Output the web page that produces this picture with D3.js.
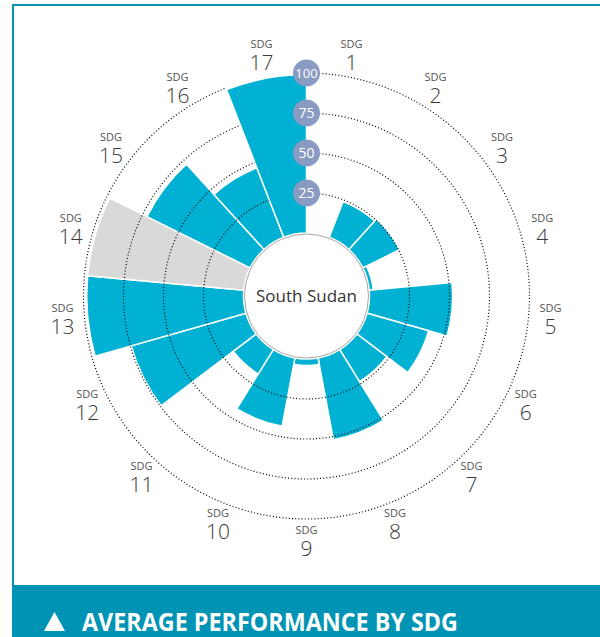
<!DOCTYPE html>
<html>
<head>
<meta charset="utf-8">
<script src="https://cdn.jsdelivr.net/npm/d3@7"></script>
<style>
  body { margin: 0; background: #fff; }
  text { font-family: "Open Sans", "DejaVu Sans", sans-serif; }
</style>
</head>
<body>
<div id="sdg-chart"></div>
<script>
// chart values
const sdgLabels = ['1','2','3','4','5','6','7','8','9','10','11','12','13','14','15','16','17'];
const sdgScores = [0, 24, 25.5, 2.5, 52, 40, 23.5, 52, 4, 43.5, 18, 74.5, 98, 98, 72, 46.5, 99];
const greyedSdgs = ['14'];   // insufficient data -> grey bar
const ringTicks = [25, 50, 75, 100];
const countryName = 'South Sudan';
const bannerTitle = 'AVERAGE PERFORMANCE BY SDG';

drawChart();

function drawChart(){
    let width = 600, height = 637
    let cx = 306.5, cy = 296
    let teal = '#0093b4', barBlue = '#00b1d4', grey = '#d9d9d9'

    let svg = d3.select('#sdg-chart').append('svg')
                .attr('width', width)
                .attr('height', height)

    // frame: top and left teal rules, banner at bottom
    svg.append('rect').attr('x', 12).attr('y', 4).attr('width', width - 12).attr('height', 2).attr('fill', teal)
    svg.append('rect').attr('x', 12).attr('y', 4).attr('width', 2).attr('height', 585).attr('fill', teal)
    svg.append('rect').attr('x', 12).attr('y', 585).attr('width', width - 12).attr('height', height - 585).attr('fill', teal)

    // scales
    let angle = d3.scaleBand().domain(sdgLabels).range([0, 2 * Math.PI]).padding(0)
    let bw = angle.bandwidth()
    let radius = d3.scaleLinear().domain([0, 100]).range([63, 223])

    let g = svg.append('g').attr('transform', 'translate(' + cx + ',' + cy + ')')

    // bars
    let arc = d3.arc()
                .innerRadius(radius(0))
                .outerRadius(function(d){ return radius(d.value) })
                .startAngle(function(d){ return angle(d.sdg) })
                .endAngle(function(d){ return angle(d.sdg) + bw })

    let rows = sdgLabels.map(function(s, i){ return {sdg: s, value: sdgScores[i]} })

    g.append('g').selectAll('path')
        .data(rows.filter(function(d){ return d.value > 0 }))
      .enter().append('path')
        .attr('d', arc)
        .attr('fill', function(d){ return greyedSdgs.includes(d.sdg) ? grey : barBlue })
        .attr('stroke', '#fff')
        .attr('stroke-width', 1.5)

    // dotted rings (left open over the last sector where the tick badges sit)
    let ringEnd = angle(sdgLabels[sdgLabels.length - 1])
    g.append('g').selectAll('path')
        .data(ringTicks)
      .enter().append('path')
        .attr('d', function(t){
            let p = d3.path()
            p.arc(0, 0, radius(t), -Math.PI / 2, ringEnd - Math.PI / 2)
            return p.toString()
        })
        .attr('fill', 'none')
        .attr('stroke', '#000')
        .attr('stroke-width', 1.2)
        .attr('stroke-dasharray', '1,2.2')

    // centre disc
    g.append('circle')
        .attr('r', radius(0) - 1)
        .attr('fill', '#fff')
        .attr('stroke', '#a6a6a6')
        .attr('stroke-width', 1)
    g.append('text')
        .attr('y', 6)
        .attr('text-anchor', 'middle')
        .attr('font-size', 17)
        .attr('fill', '#333')
        .text(countryName)

    // tick badges along the vertical axis
    let badge = g.append('g').selectAll('g')
        .data(ringTicks)
      .enter().append('g')
        .attr('transform', function(t){ return 'translate(0,' + (-radius(t)) + ')' })
    badge.append('circle')
        .attr('r', 13.5)
        .attr('fill', '#8a9bc3')
    badge.append('text')
        .attr('y', 5)
        .attr('text-anchor', 'middle')
        .attr('font-size', function(t){ return t === 100 ? 13 : 14 })
        .attr('fill', '#fff')
        .text(function(t){ return t })

    // SDG labels round the outside
    let labelR = 245
    let lab = g.append('g').selectAll('g')
        .data(sdgLabels)
      .enter().append('g')
        .attr('transform', function(s){
            let a = angle(s) + bw / 2
            return 'translate(' + (Math.sin(a) * labelR) + ',' + (-Math.cos(a) * labelR) + ')'
        })
    lab.append('text')
        .attr('y', -7)
        .attr('text-anchor', 'middle')
        .attr('font-size', 11)
        .attr('fill', '#555')
        .text('SDG')
    lab.append('text')
        .attr('y', 15)
        .attr('text-anchor', 'middle')
        .attr('font-size', 21)
        .attr('font-weight', 300)
        .attr('fill', '#3a3a3a')
        .text(function(s){ return s })

    // banner title
    svg.append('path')
        .attr('d', 'M44,631 L54.5,612 L65,631 Z')
        .attr('fill', '#fff')
    svg.append('text')
        .attr('x', 82)
        .attr('y', 631)
        .attr('font-size', 25)
        .attr('font-weight', 'bold')
        .attr('fill', '#fff')
        .attr('textLength', 376)
        .attr('lengthAdjust', 'spacingAndGlyphs')
        .text(bannerTitle)
}
</script>
</body>
</html>
